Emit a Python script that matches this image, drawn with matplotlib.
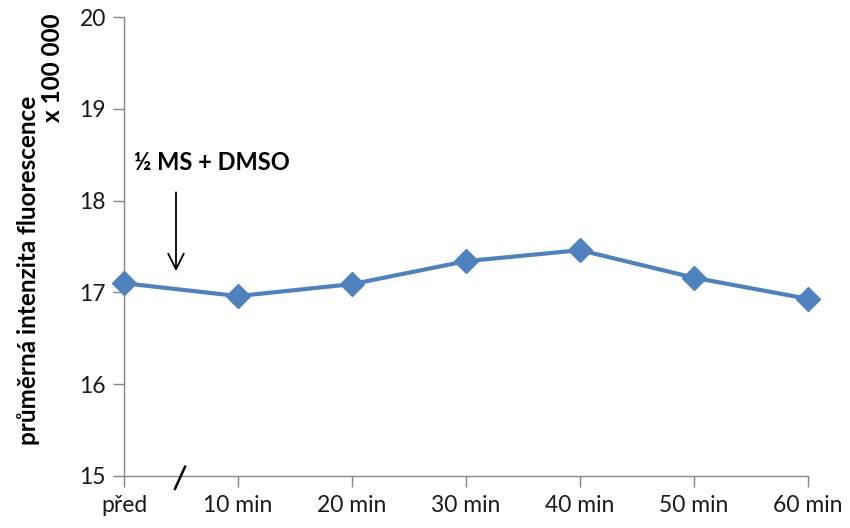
import matplotlib
matplotlib.use("Agg")
import matplotlib.pyplot as plt

plt.rcParams['font.family'] = ['Lato', 'DejaVu Sans']

# mean fluorescence intensity (x 100 000) over time
labels = ["před", "10 min", "20 min", "30 min", "40 min", "50 min", "60 min"]
values = [17.10, 16.96, 17.09, 17.34, 17.46, 17.16, 16.93]

fig = plt.figure(figsize=(8.5, 5.28), dpi=100)
ax = fig.add_axes([0.1459, 0.0985, 0.8047, 0.8693])

x = list(range(len(labels)))
ax.plot(x, values, color="#4F81BD", linewidth=3.0, marker="D",
        markersize=12.5, markeredgecolor="#4F81BD", zorder=3, clip_on=False)

ax.set_xlim(0, len(labels) - 1)
ax.set_ylim(15, 20)
ax.set_yticks([15, 16, 17, 18, 19, 20])
ax.set_xticks(x)
ax.set_xticklabels(labels)

for side in ["top", "right"]:
    ax.spines[side].set_visible(False)
for side in ["left", "bottom"]:
    ax.spines[side].set_color("#868686")
    ax.spines[side].set_linewidth(1.0)

ax.tick_params(axis="y", direction="out", length=8, width=1.0,
               color="#868686", labelsize=16.5, labelcolor="#1a1a1a", pad=5)
ax.tick_params(axis="x", direction="out", length=8, width=1.0,
               color="#868686", labelsize=16.5, labelcolor="#1a1a1a", pad=6)

# axis label in two lines
fig.text(0.034, 0.488, "průměrná intenzita fluorescence", rotation=90,
         ha="center", va="center", fontsize=17.5, fontweight="bold")
fig.text(0.062, 0.975, "x 100 000", rotation=90,
         ha="center", va="top", fontsize=17.5, fontweight="bold")

# treatment marker
ax.annotate("", xy=(0.456, 17.2), xytext=(0.456, 18.12),
            arrowprops=dict(arrowstyle="->", color="black", lw=1.3,
                            mutation_scale=28))
ax.text(0.77, 18.42, "½ MS + DMSO", ha="center", va="center",
        fontsize=17, fontweight="bold")

# axis break mark
ax.plot([0.447, 0.535], [14.86, 15.10], color="black", lw=1.8,
        clip_on=False, zorder=4)

fig.savefig("out.png", dpi=100)
